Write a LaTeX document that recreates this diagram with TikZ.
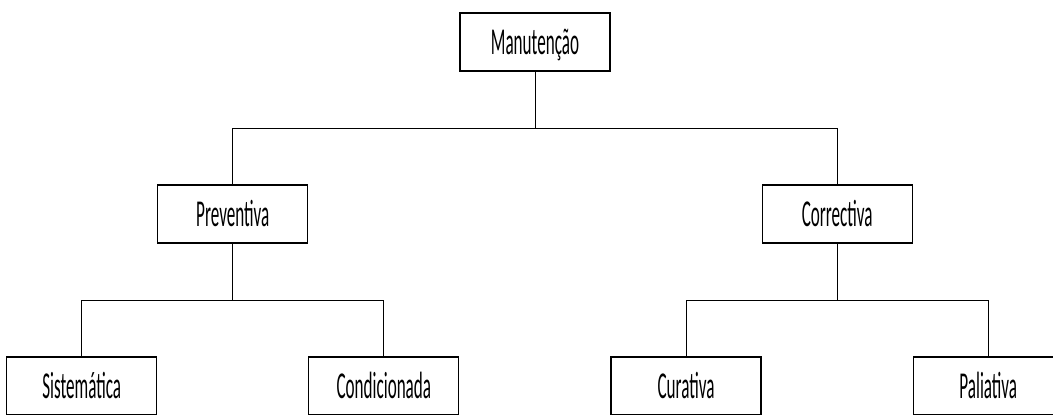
\documentclass[tikz,border=0pt]{standalone}
\usepackage{fontspec}
\newfontfamily\boxfont[FakeStretch=0.45]{Carlito}
\usepackage{tikz}
\usetikzlibrary{trees,calc}
\usepackage{tikz-qtree}

\begin{document}
\begin{tikzpicture}[level distance=172bp, sibling distance=151bp]
\tikzstyle{every node}=[draw,rectangle,line width=1.2bp,minimum width=150bp,minimum height=58bp,
  inner sep=0pt,text height=25bp,text depth=0pt,font=\boxfont\fontsize{38bp}{40bp}\selectfont]
\tikzset{edge from parent/.style={draw,line width=0.9bp,
  edge from parent path={(\tikzparentnode.south) -- +(0,-57bp) -| (\tikzchildnode.north)}}}
\Tree [.\node(manut){Manutenção};
	[.\node(prev){Preventiva}; \node(sist){Sistemática}; \node(cond){Condicionada}; ]
	[.\node(corr){Correctiva}; \node(cura){Curativa}; \node(pali){Paliativa}; ]
	]
% page size of the reference
\pgfresetboundingbox
\path[use as bounding box] ($(manut.center)+(-535bp,-373bp)$) rectangle ($(manut.center)+(518bp,42bp)$);
\end{tikzpicture}
\end{document}
